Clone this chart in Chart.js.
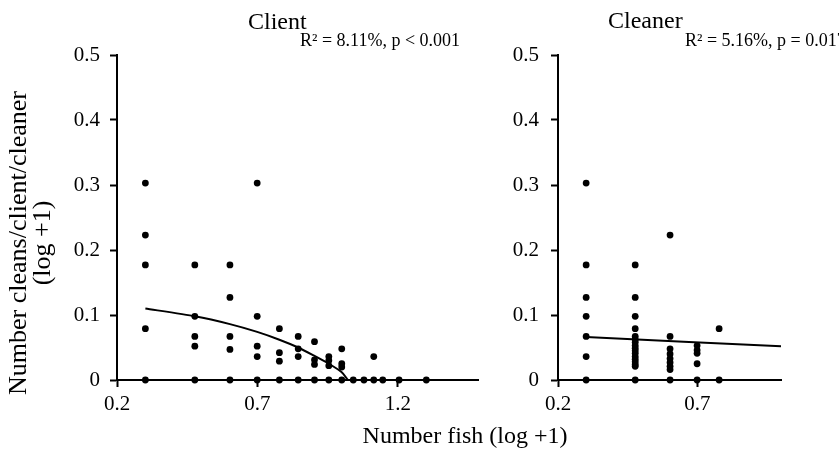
<!DOCTYPE html>
<html>
<head>
<meta charset="utf-8">
<script src="https://cdn.jsdelivr.net/npm/chart.js@4.4.1/dist/chart.umd.min.js"></script>
<style>
  html, body { margin: 0; padding: 0; background: #fff; }
  #wrap { position: relative; width: 839px; height: 452px; }
  canvas { position: absolute; left: 0; top: 0; }
</style>
</head>
<body>
<div id="wrap">
  <canvas id="c1" width="839" height="452"></canvas>
  <canvas id="c2" width="839" height="452"></canvas>
</div>
<script>
// ---- data ----
const clientFish = [
  0.301,0.301,0.301,0.301,0.301,
  0.477,0.477,0.477,0.477,0.477,
  0.602,0.602,0.602,0.602,0.602,
  0.699,0.699,0.699,0.699,0.699,
  0.778,0.778,0.778,0.778,
  0.845,0.845,0.845,0.845,
  0.903,0.903,0.903,0.903,
  0.954,0.954,0.954,0.954,
  1.000,1.000,1.000,1.000,
  1.041,
  1.079,
  1.114,1.114,
  1.146,
  1.204,
  1.301
];
const clientCleans = [
  0.303,0.223,0.177,0.079,0,
  0.177,0.098,0.067,0.052,0,
  0.177,0.127,0.067,0.047,0,
  0.303,0.098,0.052,0.036,0,
  0.079,0.042,0.029,0,
  0.067,0.048,0.036,0,
  0.059,0.031,0.024,0,
  0.036,0.030,0.022,0,
  0.048,0.025,0.020,0,
  0,
  0,
  0.036,0,
  0,
  0,
  0
];
const clientFitX = [0.301,0.477,0.602,0.699,0.778,0.845,0.903,0.954,1.000,1.022];
const clientFitY = [0.110,0.098,0.086,0.074,0.062,0.050,0.037,0.025,0.012,0.000];

const cleanerFish = [
  0.301,0.301,0.301,0.301,0.301,0.301,0.301,
  0.477,0.477,0.477,0.477,0.477,0.477,0.477,0.477,0.477,0.477,0.477,0.477,0.477,0.477,0.477,0.477,0.477,
  0.602,0.602,0.602,0.602,0.602,0.602,0.602,0.602,0.602,
  0.699,0.699,0.699,0.699,0.699,
  0.778,0.778
];
const cleanerCleans = [
  0.303,0.177,0.127,0.098,0.067,0.036,0,
  0.177,0.127,0.098,0.079,0.067,0.062,0.058,0.053,0.049,0.045,0.041,0.036,0.032,0.028,0.024,0.021,0,
  0.223,0.067,0.048,0.040,0.033,0.027,0.021,0.016,0,
  0.053,0.046,0.041,0.025,0,
  0.079,0
];
const cleanerFitX = [0.301,1.000];
const cleanerFitY = [0.066,0.052];

const yTicks = [0,0.1,0.2,0.3,0.4,0.5];
const yTickLabels = ['0','0.1','0.2','0.3','0.4','0.5'];
const clientXTicks = [0.2,0.7,1.2];
const clientXTickLabels = ['0.2','0.7','1.2'];
const cleanerXTicks = [0.2,0.7];
const cleanerXTickLabels = ['0.2','0.7'];

const panelTitles = ['Client','Cleaner'];
const statTexts = ['R\u00B2 = 8.11%, p < 0.001','R\u00B2 = 5.16%, p = 0.017'];
const yTitleLines = ['Number cleans/client/cleaner','(log +1)'];
const xTitle = 'Number fish (log +1)';

// ---- drawing ----
const SERIF = '"Liberation Serif", "Times New Roman", serif';
const pts = (xs, ys) => xs.map((x, i) => ({x: x, y: ys[i]}));

const textPlugin = {
  id: 'txt',
  afterDraw(chart, args, opts) {
    const ctx = chart.ctx;
    (opts.items || []).forEach(it => {
      ctx.save();
      ctx.font = it.font;
      ctx.fillStyle = '#000';
      ctx.textAlign = it.align || 'left';
      ctx.textBaseline = it.baseline || 'alphabetic';
      ctx.translate(it.x, it.y);
      if (it.rotate) ctx.rotate(it.rotate);
      ctx.fillText(it.text, 0, 0);
      ctx.restore();
    });
  }
};

function makeChart(id, cfg) {
  return new Chart(document.getElementById(id), {
    type: 'scatter',
    data: {
      datasets: [
        {
          data: pts(cfg.xs, cfg.ys),
          pointRadius: 3.4,
          pointBackgroundColor: '#000',
          pointBorderWidth: 0,
          showLine: false,
          clip: false
        },
        {
          data: pts(cfg.fx, cfg.fy),
          showLine: true,
          pointRadius: 0,
          borderColor: '#000',
          borderWidth: 2,
          tension: 0.2,
          clip: false
        }
      ]
    },
    options: {
      responsive: false,
      animation: false,
      devicePixelRatio: 1,
      layout: { padding: { left: cfg.padLeft, right: cfg.padRight, top: 55, bottom: 22 } },
      plugins: {
        legend: { display: false },
        tooltip: { enabled: false },
        txt: { items: cfg.items }
      },
      scales: {
        x: {
          type: 'linear',
          min: 0.2,
          max: cfg.xMax,
          afterBuildTicks: s => { s.ticks = cfg.xTicks.map(v => ({value: v})); },
          afterFit: s => { s.height = 50; },
          ticks: {
            color: '#000',
            font: { family: SERIF, size: 21 },
            padding: 5,
            maxRotation: 0,
            autoSkip: false,
            callback: (v, i) => cfg.xLabels[i]
          },
          grid: { display: true, drawOnChartArea: false, drawTicks: true, tickLength: 7, tickWidth: 2, tickColor: '#000' },
          border: { display: true, color: '#000', width: 2 }
        },
        y: {
          type: 'linear',
          min: 0,
          max: 0.5,
          afterBuildTicks: s => { s.ticks = yTicks.map(v => ({value: v})); },
          afterFit: s => { s.width = cfg.yWidth; },
          ticks: {
            color: '#000',
            font: { family: SERIF, size: 21 },
            padding: cfg.yPad,
            autoSkip: false,
            callback: (v, i) => yTickLabels[i]
          },
          grid: { display: true, drawOnChartArea: false, drawTicks: true, tickLength: 7, tickWidth: 2, tickColor: '#000' },
          border: { display: true, color: '#000', width: 2 }
        }
      }
    },
    plugins: [textPlugin]
  });
}

makeChart('c1', {
  xs: clientFish, ys: clientCleans, fx: clientFitX, fy: clientFitY,
  xMax: 1.485, xTicks: clientXTicks, xLabels: clientXTickLabels,
  padLeft: 0, padRight: 361, yWidth: 117, yPad: 10,
  items: [
    { text: panelTitles[0], x: 248, y: 29, font: '24px ' + SERIF },
    { text: statTexts[0], x: 300, y: 46, font: '18px ' + SERIF },
    { text: yTitleLines[0], x: 19, y: 243, font: '26px ' + SERIF, align: 'center', baseline: 'middle', rotate: -Math.PI / 2 },
    { text: yTitleLines[1], x: 43, y: 243, font: '26px ' + SERIF, align: 'center', baseline: 'middle', rotate: -Math.PI / 2 },
    { text: xTitle, x: 465, y: 437, font: '24px ' + SERIF, align: 'center', baseline: 'middle' }
  ]
});

makeChart('c2', {
  xs: cleanerFish, ys: cleanerCleans, fx: cleanerFitX, fy: cleanerFitY,
  xMax: 1.0, xTicks: cleanerXTicks, xLabels: cleanerXTickLabels,
  padLeft: 500, padRight: 58, yWidth: 58, yPad: 12,
  items: [
    { text: panelTitles[1], x: 608, y: 28, font: '24px ' + SERIF },
    { text: statTexts[1], x: 685, y: 46, font: '18px ' + SERIF }
  ]
});
</script>
</body>
</html>
